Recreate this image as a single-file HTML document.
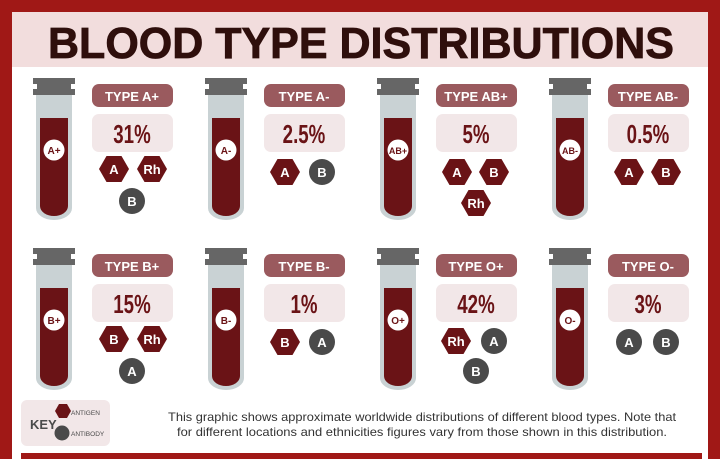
<!DOCTYPE html>
<html><head><meta charset="utf-8"><style>
html,body{margin:0;padding:0;background:#fff;width:720px;height:459px;overflow:hidden}
svg{display:block}
text{font-family:"Liberation Sans",sans-serif}
</style></head><body>
<svg width="720" height="459" viewBox="0 0 720 459" xmlns="http://www.w3.org/2000/svg">
<defs>
<g id="tube">
  <path d="M36 95 H72 V208 A18 12 0 0 1 36 208 Z" fill="#c9d2d4"/>
  <path d="M40 118 H68 V206 A14 10 0 0 1 40 206 Z" fill="#6a1316"/>
  <path d="M33 78 H75 V84 H71 V89 H75 V95 H33 V89 H37 V84 H33 Z" fill="#666"/>
  <circle cx="54" cy="150" r="10.5" fill="#fff"/>
  <rect x="92" y="84" width="81" height="23" rx="7" fill="#9a5a5e"/>
  <rect x="92" y="114" width="81" height="38" rx="7" fill="#f2e7e8"/>
</g>
<g id="hex"><polygon points="-15,0 -7.5,-13 7.5,-13 15,0 7.5,13 -7.5,13" fill="#6a1316"/></g>
<g id="circ"><circle r="13" fill="#4a4a4a"/></g>
</defs>
<rect width="720" height="459" fill="#a01816"/>
<rect x="12" y="12" width="696" height="447" fill="#fff"/>
<rect x="12" y="12" width="696" height="55" fill="#f2dddd"/>
<text x="361" y="58" text-anchor="middle" font-size="44" font-weight="bold" fill="#2f0f0c" textLength="626" lengthAdjust="spacingAndGlyphs" stroke="#2f0f0c" stroke-width="0.8">BLOOD TYPE DISTRIBUTIONS</text>

<g font-weight="bold">
<g>
 <use href="#tube"/>
 <text x="54" y="154" font-size="10" text-anchor="middle" fill="#6a1316">A+</text>
 <text x="132" y="101" font-size="13" text-anchor="middle" fill="#fff">TYPE A+</text>
 <text x="132" y="143" font-size="26" text-anchor="middle" fill="#6a1316" transform="translate(132 0) scale(0.72 1) translate(-132 0)">31%</text>
 <use href="#hex" x="114" y="169"/><text x="114" y="174" font-size="13" text-anchor="middle" fill="#fff">A</text>
 <use href="#hex" x="152" y="169"/><text x="152" y="174" font-size="13" text-anchor="middle" fill="#fff">Rh</text>
 <use href="#circ" x="132" y="201"/><text x="132" y="206" font-size="13" text-anchor="middle" fill="#fff">B</text>
</g>
<g transform="translate(172 0)">
 <use href="#tube"/>
 <text x="54" y="154" font-size="10" text-anchor="middle" fill="#6a1316">A-</text>
 <text x="132" y="101" font-size="13" text-anchor="middle" fill="#fff">TYPE A-</text>
 <text x="132" y="143" font-size="26" text-anchor="middle" fill="#6a1316" transform="translate(132 0) scale(0.72 1) translate(-132 0)">2.5%</text>
 <use href="#hex" x="113" y="172"/><text x="113" y="177" font-size="13" text-anchor="middle" fill="#fff">A</text>
 <use href="#circ" x="150" y="172"/><text x="150" y="177" font-size="13" text-anchor="middle" fill="#fff">B</text>
</g>
<g transform="translate(344 0)">
 <use href="#tube"/>
 <text x="54" y="154" font-size="9" text-anchor="middle" fill="#6a1316">AB+</text>
 <text x="132" y="101" font-size="13" text-anchor="middle" fill="#fff">TYPE AB+</text>
 <text x="132" y="143" font-size="26" text-anchor="middle" fill="#6a1316" transform="translate(132 0) scale(0.72 1) translate(-132 0)">5%</text>
 <use href="#hex" x="113" y="172"/><text x="113" y="177" font-size="13" text-anchor="middle" fill="#fff">A</text>
 <use href="#hex" x="150" y="172"/><text x="150" y="177" font-size="13" text-anchor="middle" fill="#fff">B</text>
 <use href="#hex" x="132" y="203"/><text x="132" y="208" font-size="13" text-anchor="middle" fill="#fff">Rh</text>
</g>
<g transform="translate(516 0)">
 <use href="#tube"/>
 <text x="54" y="154" font-size="9" text-anchor="middle" fill="#6a1316">AB-</text>
 <text x="132" y="101" font-size="13" text-anchor="middle" fill="#fff">TYPE AB-</text>
 <text x="132" y="143" font-size="26" text-anchor="middle" fill="#6a1316" transform="translate(132 0) scale(0.72 1) translate(-132 0)">0.5%</text>
 <use href="#hex" x="113" y="172"/><text x="113" y="177" font-size="13" text-anchor="middle" fill="#fff">A</text>
 <use href="#hex" x="150" y="172"/><text x="150" y="177" font-size="13" text-anchor="middle" fill="#fff">B</text>
</g>
<g transform="translate(0 170)">
 <use href="#tube"/>
 <text x="54" y="154" font-size="10" text-anchor="middle" fill="#6a1316">B+</text>
 <text x="132" y="101" font-size="13" text-anchor="middle" fill="#fff">TYPE B+</text>
 <text x="132" y="143" font-size="26" text-anchor="middle" fill="#6a1316" transform="translate(132 0) scale(0.72 1) translate(-132 0)">15%</text>
 <use href="#hex" x="114" y="169"/><text x="114" y="174" font-size="13" text-anchor="middle" fill="#fff">B</text>
 <use href="#hex" x="152" y="169"/><text x="152" y="174" font-size="13" text-anchor="middle" fill="#fff">Rh</text>
 <use href="#circ" x="132" y="201"/><text x="132" y="206" font-size="13" text-anchor="middle" fill="#fff">A</text>
</g>
<g transform="translate(172 170)">
 <use href="#tube"/>
 <text x="54" y="154" font-size="10" text-anchor="middle" fill="#6a1316">B-</text>
 <text x="132" y="101" font-size="13" text-anchor="middle" fill="#fff">TYPE B-</text>
 <text x="132" y="143" font-size="26" text-anchor="middle" fill="#6a1316" transform="translate(132 0) scale(0.72 1) translate(-132 0)">1%</text>
 <use href="#hex" x="113" y="172"/><text x="113" y="177" font-size="13" text-anchor="middle" fill="#fff">B</text>
 <use href="#circ" x="150" y="172"/><text x="150" y="177" font-size="13" text-anchor="middle" fill="#fff">A</text>
</g>
<g transform="translate(344 170)">
 <use href="#tube"/>
 <text x="54" y="154" font-size="10" text-anchor="middle" fill="#6a1316">O+</text>
 <text x="132" y="101" font-size="13" text-anchor="middle" fill="#fff">TYPE O+</text>
 <text x="132" y="143" font-size="26" text-anchor="middle" fill="#6a1316" transform="translate(132 0) scale(0.72 1) translate(-132 0)">42%</text>
 <use href="#hex" x="112" y="171"/><text x="112" y="176" font-size="13" text-anchor="middle" fill="#fff">Rh</text>
 <use href="#circ" x="150" y="171"/><text x="150" y="176" font-size="13" text-anchor="middle" fill="#fff">A</text>
 <use href="#circ" x="132" y="201"/><text x="132" y="206" font-size="13" text-anchor="middle" fill="#fff">B</text>
</g>
<g transform="translate(516 170)">
 <use href="#tube"/>
 <text x="54" y="154" font-size="10" text-anchor="middle" fill="#6a1316">O-</text>
 <text x="132" y="101" font-size="13" text-anchor="middle" fill="#fff">TYPE O-</text>
 <text x="132" y="143" font-size="26" text-anchor="middle" fill="#6a1316" transform="translate(132 0) scale(0.72 1) translate(-132 0)">3%</text>
 <use href="#circ" x="113" y="172"/><text x="113" y="177" font-size="13" text-anchor="middle" fill="#fff">A</text>
 <use href="#circ" x="150" y="172"/><text x="150" y="177" font-size="13" text-anchor="middle" fill="#fff">B</text>
</g>
</g>

<rect x="21" y="400" width="89" height="46" rx="6" fill="#f2e7e8"/>
<text x="30" y="429" font-size="13" font-weight="bold" fill="#4a4a4a">KEY</text>
<polygon points="55,411 59,404 67,404 71,411 67,418 59,418" fill="#6a1316"/>
<circle cx="62" cy="433" r="7.5" fill="#4a4a4a"/>
<text x="71" y="415" font-size="6.5" fill="#4a4a4a">ANTIGEN</text>
<text x="71" y="436" font-size="6.5" fill="#4a4a4a">ANTIBODY</text>
<text x="422" y="421" font-size="12" text-anchor="middle" fill="#333" textLength="508" lengthAdjust="spacingAndGlyphs">This graphic shows approximate worldwide distributions of different blood types. Note that</text>
<text x="422" y="436" font-size="12" text-anchor="middle" fill="#333" textLength="490" lengthAdjust="spacingAndGlyphs">for different locations and ethnicities figures vary from those shown in this distribution.</text>
<rect x="21" y="453" width="681" height="6" fill="#a01816"/>
</svg>
</body></html>
